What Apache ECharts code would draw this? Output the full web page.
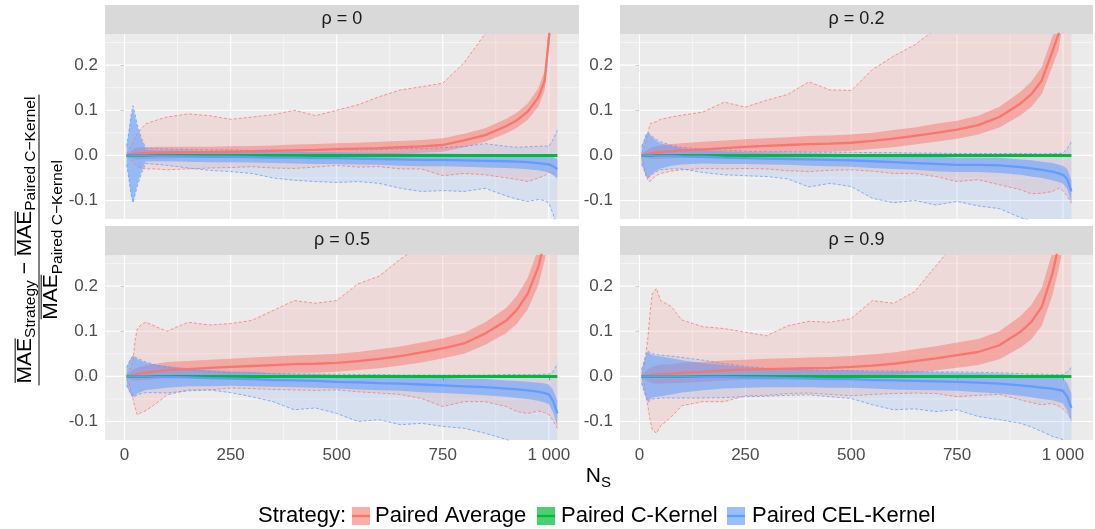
<!DOCTYPE html>
<html>
<head>
<meta charset="utf-8">
<script src="https://cdn.jsdelivr.net/npm/echarts@6/dist/echarts.min.js"></script>
<style>
  html, body { margin: 0; padding: 0; background: #ffffff; }
  #main { width: 1095px; height: 529px; }
</style>
</head>
<body>
<div id="main"></div>
<script>
// Sample sizes N_S at which the relative MAE summaries are recorded
const ns = [5, 10, 15, 20, 25, 30, 40, 50,
            75, 100, 150, 200, 250, 300, 350, 400,
            450, 500, 550, 600, 650, 700, 750, 800,
            850, 900, 925, 950, 975, 990, 1000, 1010,
            1020];

const facetLabels = ['ρ = 0', 'ρ = 0.2', 'ρ = 0.5', 'ρ = 0.9'];
const strategies = ['Paired Average', 'Paired C-Kernel', 'Paired CEL-Kernel'];
const xTicks = [0, 250, 500, 750, 1000];
const xMinor = [125, 375, 625, 875];
const yTicks = [-0.1, 0, 0.1, 0.2];
const yMinor = [-0.05, 0.05, 0.15, 0.25];

// Paired C-Kernel is the reference strategy: its relative difference is zero
const ckMean = [0, 0, 0, 0, 0, 0, 0, 0,
                0, 0, 0, 0, 0, 0, 0, 0,
                0, 0, 0, 0, 0, 0, 0, 0,
                0, 0, 0, 0, 0, 0, 0, 0,
                0];

// ---- rho = 0 ----
const avgMean0 = [0, 0.001, 0.002, 0.003, 0.004, 0.004, 0.005, 0.005,
                  0.006, 0.006, 0.007, 0.007, 0.008, 0.009, 0.010, 0.011,
                  0.012, 0.014, 0.015, 0.016, 0.018, 0.020, 0.023, 0.033,
                  0.045, 0.065, 0.078, 0.097, 0.128, 0.165, 0.26, 0.36,
                  0.5];
const avgBand0 = [0.003, 0.005, 0.008, 0.010, 0.012, 0.013, 0.013, 0.013,
                  0.013, 0.013, 0.012, 0.012, 0.012, 0.012, 0.012, 0.013,
                  0.013, 0.013, 0.013, 0.014, 0.014, 0.014, 0.015, 0.015,
                  0.015, 0.016, 0.017, 0.018, 0.020, 0.022, 0.025, 0.030,
                  0.040];
const avgMax0 = [0.005, 0.01, 0.02, 0.03, 0.04, 0.047, 0.06, 0.07,
                 0.078, 0.085, 0.092, 0.088, 0.08, 0.085, 0.09, 0.1,
                 0.088, 0.1, 0.112, 0.13, 0.145, 0.152, 0.16, 0.205,
                 0.27, 0.33, 0.36, 0.4, 0.45, 0.48, 0.5, 0.55,
                 0.6];
const avgMin0 = [-0.003, -0.006, -0.01, -0.015, -0.02, -0.025, -0.028, -0.03,
                 -0.03, -0.032, -0.03, -0.028, -0.027, -0.025, -0.028, -0.029,
                 -0.026, -0.022, -0.026, -0.025, -0.03, -0.03, -0.045, -0.04,
                 -0.043, -0.05, -0.053, -0.058, -0.05, -0.045, -0.037, -0.04,
                 -0.045];
const celMean0 = [0, 0, 0, 0, 0, 0, 0, 0,
                  -0.001, -0.001, -0.002, -0.003, -0.003, -0.004, -0.005, -0.005,
                  -0.006, -0.006, -0.007, -0.008, -0.009, -0.010, -0.010, -0.011,
                  -0.012, -0.013, -0.014, -0.015, -0.017, -0.019, -0.020, -0.024,
                  -0.03];
const celBand0 = [0.02, 0.05, 0.085, 0.105, 0.085, 0.065, 0.035, 0.013,
                  0.012, 0.012, 0.012, 0.012, 0.012, 0.012, 0.012, 0.013,
                  0.013, 0.013, 0.013, 0.013, 0.014, 0.014, 0.014, 0.014,
                  0.015, 0.015, 0.015, 0.016, 0.016, 0.017, 0.018, 0.020,
                  0.022];
const celMax0 = [0.02, 0.05, 0.087, 0.11, 0.09, 0.068, 0.038, 0.016,
                 0.015, 0.014, 0.013, 0.012, 0.012, 0.011, 0.012, 0.010,
                 0.012, 0.013, 0.012, 0.013, 0.015, 0.015, 0.017, 0.020,
                 0.026, 0.020, 0.018, 0.019, 0.020, 0.021, 0.020, 0.035,
                 0.056];
const celMin0 = [-0.02, -0.05, -0.085, -0.105, -0.087, -0.068, -0.04, -0.018,
                 -0.02, -0.022, -0.028, -0.033, -0.036, -0.04, -0.05, -0.055,
                 -0.058, -0.06, -0.058, -0.062, -0.073, -0.08, -0.078, -0.08,
                 -0.073, -0.09, -0.097, -0.102, -0.098, -0.1, -0.106, -0.13,
                 -0.16];

// ---- rho = 0.2 ----
const avgMean1 = [0, 0.001, 0.002, 0.003, 0.004, 0.005, 0.006, 0.007,
                  0.009, 0.011, 0.013, 0.016, 0.019, 0.021, 0.023, 0.025,
                  0.026, 0.028, 0.032, 0.037, 0.043, 0.050, 0.057, 0.067,
                  0.085, 0.115, 0.135, 0.166, 0.23, 0.27, 0.34, 0.42,
                  0.55];
const avgBand1 = [0.003, 0.005, 0.008, 0.010, 0.012, 0.013, 0.014, 0.015,
                  0.016, 0.016, 0.017, 0.017, 0.017, 0.017, 0.017, 0.018,
                  0.018, 0.018, 0.018, 0.019, 0.019, 0.020, 0.020, 0.021,
                  0.023, 0.026, 0.028, 0.030, 0.033, 0.036, 0.040, 0.045,
                  0.050];
const avgMax1 = [0.005, 0.015, 0.03, 0.05, 0.07, 0.072, 0.075, 0.08,
                 0.085, 0.089, 0.096, 0.118, 0.107, 0.122, 0.135, 0.163,
                 0.145, 0.144, 0.19, 0.22, 0.245, 0.28, 0.3, 0.33,
                 0.36, 0.4, 0.42, 0.45, 0.5, 0.53, 0.55, 0.6,
                 0.65];
const avgMin1 = [-0.005, -0.02, -0.04, -0.055, -0.058, -0.052, -0.045, -0.04,
                 -0.035, -0.032, -0.029, -0.03, -0.029, -0.03, -0.034, -0.036,
                 -0.033, -0.032, -0.035, -0.04, -0.04, -0.047, -0.058, -0.054,
                 -0.065, -0.076, -0.085, -0.084, -0.08, -0.073, -0.078, -0.09,
                 -0.106];
const celMean1 = [0, 0, 0, 0, 0, 0, -0.001, -0.001,
                  -0.001, -0.002, -0.003, -0.005, -0.006, -0.007, -0.008, -0.009,
                  -0.010, -0.011, -0.013, -0.015, -0.017, -0.019, -0.021, -0.021,
                  -0.022, -0.026, -0.029, -0.032, -0.036, -0.040, -0.043, -0.052,
                  -0.08];
const celBand1 = [0.02, 0.03, 0.045, 0.05, 0.045, 0.04, 0.033, 0.028,
                  0.022, 0.018, 0.015, 0.014, 0.013, 0.013, 0.013, 0.014,
                  0.014, 0.014, 0.015, 0.015, 0.015, 0.016, 0.016, 0.016,
                  0.017, 0.017, 0.018, 0.018, 0.019, 0.019, 0.020, 0.022,
                  0.025];
const celMax1 = [0.02, 0.03, 0.045, 0.05, 0.046, 0.042, 0.035, 0.03,
                 0.022, 0.018, 0.014, 0.012, 0.009, 0.008, 0.008, 0.007,
                 0.007, 0.007, 0.006, 0.006, 0.005, 0.005, 0.004, 0.004,
                 0.004, 0.004, 0.004, 0.003, 0.004, 0.004, 0.005, 0.015,
                 0.03];
const celMin1 = [-0.02, -0.03, -0.045, -0.05, -0.046, -0.042, -0.036, -0.032,
                 -0.03, -0.03, -0.038, -0.043, -0.045, -0.047, -0.052, -0.07,
                 -0.062, -0.069, -0.095, -0.105, -0.1, -0.11, -0.102, -0.112,
                 -0.118, -0.138, -0.145, -0.155, -0.165, -0.17, -0.18, -0.19,
                 -0.2];

// ---- rho = 0.5 ----
const avgMean2 = [0, 0.001, 0.002, 0.003, 0.004, 0.005, 0.007, 0.008,
                  0.011, 0.014, 0.016, 0.019, 0.021, 0.023, 0.025, 0.027,
                  0.028, 0.030, 0.034, 0.039, 0.045, 0.053, 0.062, 0.073,
                  0.095, 0.124, 0.148, 0.183, 0.242, 0.30, 0.36, 0.44,
                  0.55];
const avgBand2 = [0.004, 0.006, 0.009, 0.012, 0.013, 0.014, 0.015, 0.016,
                  0.017, 0.018, 0.018, 0.018, 0.018, 0.019, 0.019, 0.019,
                  0.020, 0.020, 0.020, 0.021, 0.021, 0.022, 0.022, 0.023,
                  0.025, 0.028, 0.031, 0.035, 0.040, 0.043, 0.045, 0.050,
                  0.055];
const avgMax2 = [0.005, 0.01, 0.02, 0.036, 0.08, 0.105, 0.115, 0.12,
                 0.11, 0.1, 0.12, 0.114, 0.117, 0.124, 0.146, 0.168,
                 0.162, 0.168, 0.205, 0.222, 0.26, 0.29, 0.32, 0.36,
                 0.4, 0.44, 0.46, 0.5, 0.55, 0.58, 0.6, 0.62,
                 0.65];
const avgMin2 = [-0.005, -0.015, -0.03, -0.05, -0.07, -0.085, -0.08, -0.076,
                 -0.06, -0.041, -0.03, -0.03, -0.026, -0.027, -0.029, -0.03,
                 -0.031, -0.03, -0.034, -0.037, -0.04, -0.049, -0.067, -0.056,
                 -0.056, -0.067, -0.078, -0.082, -0.077, -0.08, -0.085, -0.098,
                 -0.115];
const celMean2 = [0, 0, 0, 0, 0, 0, 0, 0,
                  -0.001, -0.001, -0.002, -0.004, -0.005, -0.006, -0.008, -0.009,
                  -0.010, -0.012, -0.013, -0.015, -0.016, -0.018, -0.020, -0.022,
                  -0.024, -0.027, -0.029, -0.031, -0.034, -0.037, -0.040, -0.055,
                  -0.082];
const celBand2 = [0.02, 0.03, 0.04, 0.045, 0.042, 0.038, 0.034, 0.03,
                  0.027, 0.024, 0.02, 0.018, 0.016, 0.016, 0.015, 0.015,
                  0.015, 0.015, 0.016, 0.016, 0.016, 0.017, 0.017, 0.017,
                  0.018, 0.018, 0.019, 0.019, 0.020, 0.021, 0.022, 0.025,
                  0.028];
const celMax2 = [0.02, 0.03, 0.04, 0.045, 0.043, 0.04, 0.036, 0.032,
                 0.025, 0.02, 0.014, 0.01, 0.008, 0.007, 0.006, 0.006,
                 0.005, 0.005, 0.004, 0.004, 0.003, 0.003, 0.003, 0.003,
                 0.003, 0.004, 0.004, 0.004, 0.004, 0.005, 0.005, 0.01,
                 0.028];
const celMin2 = [-0.02, -0.03, -0.04, -0.046, -0.044, -0.041, -0.038, -0.036,
                 -0.036, -0.037, -0.032, -0.03, -0.036, -0.045, -0.056, -0.074,
                 -0.07, -0.082, -0.1, -0.096, -0.107, -0.104, -0.111, -0.115,
                 -0.126, -0.14, -0.15, -0.16, -0.17, -0.175, -0.18, -0.19,
                 -0.2];

// ---- rho = 0.9 ----
const avgMean3 = [0, 0.001, 0.001, 0.002, 0.003, 0.003, 0.004, 0.005,
                  0.006, 0.008, 0.010, 0.013, 0.015, 0.016, 0.017, 0.018,
                  0.019, 0.021, 0.024, 0.028, 0.034, 0.040, 0.047, 0.054,
                  0.069, 0.099, 0.120, 0.154, 0.227, 0.29, 0.34, 0.43,
                  0.55];
const avgBand3 = [0.003, 0.006, 0.010, 0.013, 0.016, 0.018, 0.020, 0.021,
                  0.021, 0.022, 0.022, 0.022, 0.022, 0.023, 0.023, 0.024,
                  0.024, 0.024, 0.025, 0.025, 0.026, 0.027, 0.028, 0.029,
                  0.031, 0.035, 0.038, 0.042, 0.048, 0.052, 0.055, 0.060,
                  0.065];
const avgMax3 = [0.005, 0.014, 0.05, 0.087, 0.14, 0.183, 0.195, 0.168,
                 0.155, 0.125, 0.11, 0.106, 0.098, 0.09, 0.112, 0.122,
                 0.12, 0.128, 0.168, 0.162, 0.188, 0.245, 0.3, 0.33,
                 0.37, 0.41, 0.43, 0.46, 0.5, 0.53, 0.55, 0.6,
                 0.65];
const avgMin3 = [-0.005, -0.01, -0.04, -0.067, -0.095, -0.118, -0.126, -0.11,
                 -0.09, -0.065, -0.056, -0.056, -0.043, -0.042, -0.038, -0.037,
                 -0.04, -0.043, -0.04, -0.038, -0.037, -0.038, -0.045, -0.042,
                 -0.04, -0.052, -0.058, -0.063, -0.06, -0.066, -0.072, -0.082,
                 -0.095];
const celMean3 = [0, 0, 0, 0, 0, 0, 0, 0,
                  0, 0, -0.001, -0.001, -0.002, -0.003, -0.004, -0.005,
                  -0.006, -0.006, -0.008, -0.009, -0.010, -0.011, -0.012, -0.014,
                  -0.016, -0.020, -0.022, -0.025, -0.027, -0.030, -0.032, -0.045,
                  -0.07];
const celBand3 = [0.015, 0.03, 0.045, 0.055, 0.05, 0.047, 0.045, 0.044,
                  0.04, 0.036, 0.03, 0.026, 0.023, 0.021, 0.020, 0.019,
                  0.019, 0.019, 0.019, 0.020, 0.020, 0.020, 0.020, 0.021,
                  0.022, 0.023, 0.024, 0.025, 0.026, 0.027, 0.028, 0.030,
                  0.032];
const celMax3 = [0.015, 0.03, 0.046, 0.057, 0.052, 0.05, 0.048, 0.047,
                 0.045, 0.042, 0.036, 0.028, 0.022, 0.018, 0.016, 0.014,
                 0.013, 0.013, 0.012, 0.012, 0.011, 0.01, 0.01, 0.009,
                 0.008, 0.006, 0.005, 0.005, 0.004, 0.004, 0.004, 0.01,
                 0.02];
const celMin3 = [-0.015, -0.03, -0.046, -0.057, -0.053, -0.05, -0.049, -0.048,
                 -0.048, -0.048, -0.048, -0.047, -0.045, -0.044, -0.042, -0.041,
                 -0.045, -0.049, -0.063, -0.074, -0.072, -0.078, -0.074, -0.089,
                 -0.096, -0.104, -0.112, -0.122, -0.133, -0.137, -0.14, -0.15,
                 -0.16];

const panels = [
  { avgMean: avgMean0, avgBand: avgBand0, avgMax: avgMax0, avgMin: avgMin0,
    celMean: celMean0, celBand: celBand0, celMax: celMax0, celMin: celMin0 },
  { avgMean: avgMean1, avgBand: avgBand1, avgMax: avgMax1, avgMin: avgMin1,
    celMean: celMean1, celBand: celBand1, celMax: celMax1, celMin: celMin1 },
  { avgMean: avgMean2, avgBand: avgBand2, avgMax: avgMax2, avgMin: avgMin2,
    celMean: celMean2, celBand: celBand2, celMax: celMax2, celMin: celMin2 },
  { avgMean: avgMean3, avgBand: avgBand3, avgMax: avgMax3, avgMin: avgMin3,
    celMean: celMean3, celBand: celBand3, celMax: celMax3, celMin: celMin3 }
];

const FONT = '"Liberation Sans", Arial, Helvetica, sans-serif';
const RED = '#F8766D', GREEN = '#00BA38', BLUE = '#619CFF';
const X_MIN = -46, X_MAX = 1071, Y_MIN = -0.141, Y_MAX = 0.269;

const gridBoxes = [
  { left: 105, top: 34, width: 474, height: 185 },
  { left: 620, top: 34, width: 473, height: 185 },
  { left: 105, top: 255, width: 474, height: 185 },
  { left: 620, top: 255, width: 473, height: 185 }
];

function clipRect(cs) {
  return { type: 'rect', shape: { x: cs.x, y: cs.y, width: cs.width, height: cs.height } };
}

// Filled band between two value arrays, drawn through the panel's axes
function ribbonSeries(p, lo, hi, fill) {
  return {
    type: 'custom', xAxisIndex: p, yAxisIndex: p, clip: true, silent: true,
    data: [[ns[0], 0]],
    renderItem: function (params, api) {
      if (params.dataIndex !== 0) return null;
      const pts = [];
      for (let i = 0; i < ns.length; i++) pts.push(api.coord([ns[i], hi[i]]));
      for (let i = ns.length - 1; i >= 0; i--) pts.push(api.coord([ns[i], lo[i]]));
      return {
        type: 'group', clipPath: clipRect(params.coordSys),
        children: [{ type: 'polygon', shape: { points: pts }, style: { fill: fill } }]
      };
    }
  };
}

// White major and minor panel grid lines
function gridLineSeries(p) {
  return {
    type: 'custom', xAxisIndex: p, yAxisIndex: p, clip: true, silent: true,
    data: [[0, 0]],
    renderItem: function (params, api) {
      if (params.dataIndex !== 0) return null;
      const cs = params.coordSys;
      const kids = [];
      const vline = (v, w) => {
        const x = api.coord([v, 0])[0];
        kids.push({ type: 'line', shape: { x1: x, y1: cs.y, x2: x, y2: cs.y + cs.height },
                    style: { stroke: '#ffffff', lineWidth: w } });
      };
      const hline = (v, w) => {
        const y = api.coord([0, v])[1];
        kids.push({ type: 'line', shape: { x1: cs.x, y1: y, x2: cs.x + cs.width, y2: y },
                    style: { stroke: '#ffffff', lineWidth: w } });
      };
      xMinor.forEach(v => vline(v, 0.55));
      yMinor.forEach(v => hline(v, 0.55));
      xTicks.forEach(v => vline(v, 1.1));
      yTicks.forEach(v => hline(v, 1.1));
      return { type: 'group', clipPath: clipRect(cs), children: kids };
    }
  };
}

function pairs(arr) { return ns.map((n, i) => [n, arr[i]]); }

function lineSeries(p, name, arr, color, width, dashed) {
  return {
    type: 'line', name: name, xAxisIndex: p, yAxisIndex: p,
    data: pairs(arr), showSymbol: false, symbol: 'none', clip: true, silent: true,
    lineStyle: dashed ? { color: color, width: 0.8, type: [3, 2], opacity: 0.95 }
                      : { color: color, width: width },
    emphasis: { disabled: true }
  };
}

const series = [];
panels.forEach((d, p) => {
  const avgLo = d.avgMean.map((m, i) => m - d.avgBand[i]);
  const avgHi = d.avgMean.map((m, i) => m + d.avgBand[i]);
  const celLo = d.celMean.map((m, i) => m - d.celBand[i]);
  const celHi = d.celMean.map((m, i) => m + d.celBand[i]);
  series.push(gridLineSeries(p));
  series.push(ribbonSeries(p, d.avgMin, d.avgMax, 'rgba(248,118,109,0.15)'));
  series.push(ribbonSeries(p, d.celMin, d.celMax, 'rgba(97,156,255,0.15)'));
  series.push(lineSeries(p, strategies[0], d.avgMax, RED, 0, true));
  series.push(lineSeries(p, strategies[0], d.avgMin, RED, 0, true));
  series.push(lineSeries(p, strategies[2], d.celMax, BLUE, 0, true));
  series.push(lineSeries(p, strategies[2], d.celMin, BLUE, 0, true));
  series.push(ribbonSeries(p, avgLo, avgHi, 'rgba(248,118,109,0.5)'));
  series.push(ribbonSeries(p, celLo, celHi, 'rgba(97,156,255,0.55)'));
  series.push(lineSeries(p, strategies[0], d.avgMean, RED, 2.3, false));
  series.push(lineSeries(p, strategies[1], ckMean, GREEN, 3, false));
  series.push(lineSeries(p, strategies[2], d.celMean, BLUE, 2.3, false));
});

const xAxes = gridBoxes.map((g, p) => ({
  type: 'value', gridIndex: p, min: X_MIN, max: X_MAX,
  axisLine: { show: false }, splitLine: { show: false },
  axisTick: { show: p >= 2, length: 4, customValues: xTicks, lineStyle: { color: '#333333', width: 1 } },
  axisLabel: {
    show: p >= 2, customValues: xTicks, margin: 7, color: '#4D4D4D', fontSize: 17, fontFamily: FONT,
    formatter: v => String(v).replace(/\B(?=(\d{3})+(?!\d))/g, ' ')
  }
}));

const yAxes = gridBoxes.map((g, p) => ({
  type: 'value', gridIndex: p, min: Y_MIN, max: Y_MAX,
  axisLine: { show: false }, splitLine: { show: false },
  axisTick: { show: true, length: 4, customValues: yTicks, lineStyle: { color: '#333333', width: 1 } },
  axisLabel: {
    show: true, customValues: yTicks, margin: 7, color: '#4D4D4D', fontSize: 17, fontFamily: FONT,
    formatter: v => (Math.round(v * 10) / 10).toFixed(1)
  }
}));

// Text width helper for laying out the stacked axis title
const measureCtx = document.createElement('canvas').getContext('2d');
function textWidth(t, size) {
  measureCtx.font = size + 'px ' + FONT;
  return measureCtx.measureText(t).width;
}

function fractionTitle() {
  const big = 21, small = 15.5;
  const kids = [];
  function row(pieces, baseBig, baseSmall) {
    const widths = pieces.map(pc => textWidth(pc[0], pc[1]));
    const total = widths.reduce((a, b) => a + b, 0);
    let x = -total / 2;
    pieces.forEach((pc, i) => {
      const isBig = pc[1] === big;
      const base = isBig ? baseBig : baseSmall;
      kids.push({
        type: 'text', x: x, y: base - 0.31 * pc[1],
        style: { text: pc[0], font: pc[1] + 'px ' + FONT, fill: '#000000',
                 align: 'left', verticalAlign: 'middle' }
      });
      if (pc[2]) {
        const oy = baseBig - 0.716 * big - 1.8;
        kids.push({ type: 'line', shape: { x1: x + 0.5, y1: oy, x2: x + widths[i] - 0.5, y2: oy },
                    style: { stroke: '#000000', lineWidth: 1 } });
      }
      x += widths[i];
    });
    return total;
  }
  const numW = row([['MAE', big, true], ['Strategy', small, false], [' − ', big, false],
                    ['MAE', big, true], ['Paired C−Kernel', small, false]], -7, -3);
  row([['MAE', big, true], ['Paired C−Kernel', small, false]], 19, 23.5);
  kids.push({ type: 'line', shape: { x1: -numW / 2 - 2, y1: 0, x2: numW / 2 + 2, y2: 0 },
              style: { stroke: '#000000', lineWidth: 1 } });
  return { type: 'group', x: 39, y: 240, rotation: Math.PI / 2, children: kids, silent: true };
}

const graphics = [];
// Facet strips
gridBoxes.forEach((g, p) => {
  graphics.push({
    type: 'rect', shape: { x: g.left, y: g.top - 29, width: g.width, height: 29 },
    style: { fill: '#D9D9D9' }, silent: true
  });
  graphics.push({
    type: 'text', x: g.left + g.width / 2, y: g.top - 14.5,
    style: { text: facetLabels[p], font: '18px ' + FONT, fill: '#1A1A1A',
             align: 'center', verticalAlign: 'middle' }, silent: true
  });
});
graphics.push(fractionTitle());
// x axis title N_S
graphics.push({ type: 'text', x: 601, y: 476,
  style: { text: 'N', font: '21px ' + FONT, fill: '#000000', align: 'right', verticalAlign: 'middle' } });
graphics.push({ type: 'text', x: 601, y: 483,
  style: { text: 'S', font: '15px ' + FONT, fill: '#000000', align: 'left', verticalAlign: 'middle' } });

// Legend
const legendY = 516;
graphics.push({ type: 'text', x: 258, y: legendY,
  style: { text: 'Strategy:', font: '22px ' + FONT, fill: '#000000', align: 'left', verticalAlign: 'middle' } });
const legendItems = [
  { key: 352, label: 375, fill: 'rgba(248,118,109,0.6)', line: RED },
  { key: 537, label: 561, fill: 'rgba(0,186,56,0.7)', line: GREEN },
  { key: 727, label: 752, fill: 'rgba(97,156,255,0.65)', line: BLUE }
];
legendItems.forEach((it, i) => {
  graphics.push({ type: 'rect', shape: { x: it.key, y: legendY - 9, width: 18, height: 18 },
                  style: { fill: it.fill }, silent: true });
  graphics.push({ type: 'line', shape: { x1: it.key, y1: legendY, x2: it.key + 18, y2: legendY },
                  style: { stroke: it.line, lineWidth: 2.3 }, silent: true });
  graphics.push({ type: 'text', x: it.label, y: legendY,
    style: { text: strategies[i], font: '22px ' + FONT, fill: '#000000', align: 'left', verticalAlign: 'middle' } });
});

const chart = echarts.init(document.getElementById('main'), null, { renderer: 'canvas' });
chart.setOption({
  animation: false,
  backgroundColor: '#ffffff',
  grid: gridBoxes.map(g => Object.assign({ show: true, backgroundColor: '#EBEBEB', borderWidth: 0 }, g)),
  xAxis: xAxes,
  yAxis: yAxes,
  series: series,
  graphic: graphics
});
</script>
</body>
</html>
